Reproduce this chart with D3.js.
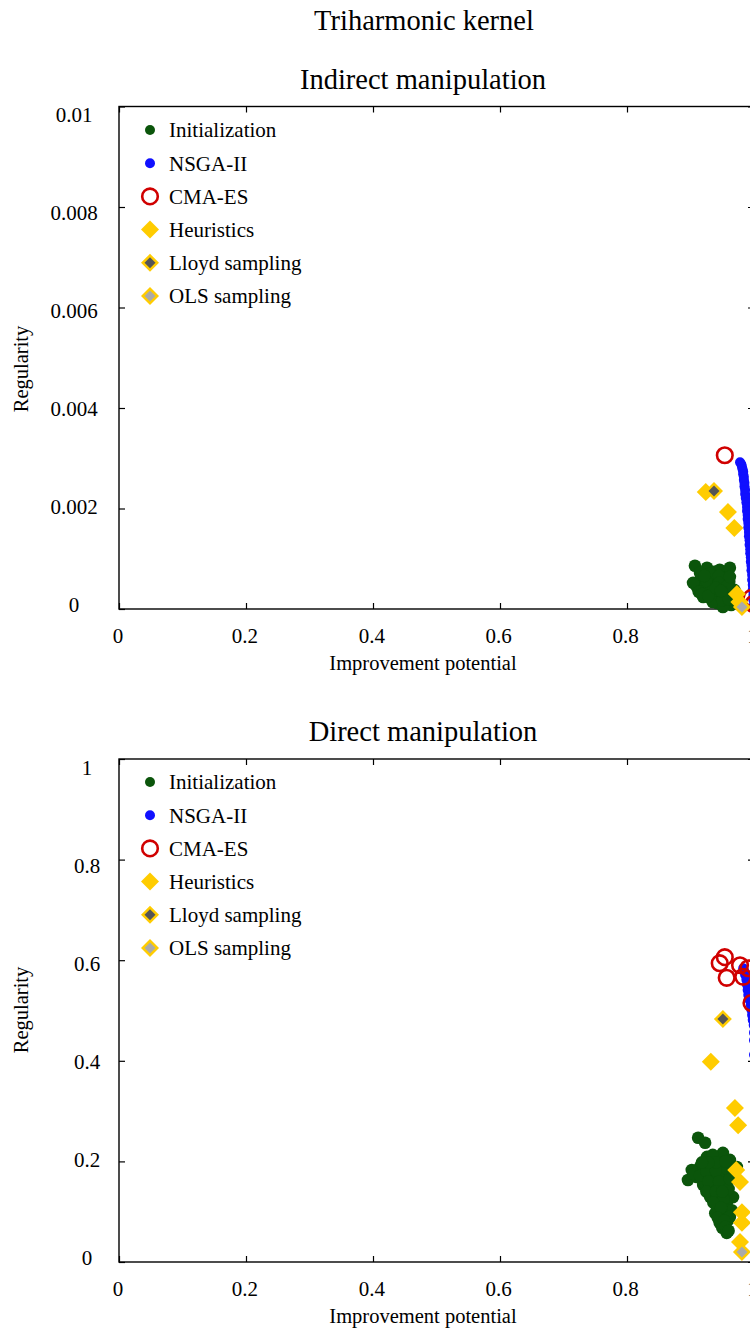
<!DOCTYPE html>
<html><head><meta charset="utf-8">
<script src="https://cdn.jsdelivr.net/npm/d3@7"></script>
<style>
body{margin:0;background:#fff;}
svg{display:block;font-family:"Liberation Serif","Times New Roman",serif;}
</style></head>
<body>
<svg id="chart" width="750" height="1331"></svg>
<script>
// ---------- DATA ----------
const xTicks = [0, 0.2, 0.4, 0.6, 0.8, 1];
const xTickLabels = ["0", "0.2", "0.4", "0.6", "0.8", "1"];
const topYTicks = [0, 0.002, 0.004, 0.006, 0.008, 0.01];
const topYTickLabels = ["0", "0.002", "0.004", "0.006", "0.008", "0.01"];
const botYTicks = [0, 0.2, 0.4, 0.6, 0.8, 1];
const botYTickLabels = ["0", "0.2", "0.4", "0.6", "0.8", "1"];
const legendLabels = ["Initialization", "NSGA-II", "CMA-ES", "Heuristics", "Lloyd sampling", "OLS sampling"];

// Indirect manipulation
const indInit = [[0.907,0.00086],[0.926,0.00082],[0.946,0.00078],[0.957,0.00072],[0.934,0.00064],[0.915,0.00058],[0.910,0.00044],[0.920,0.00038],[0.935,0.00038],[0.951,0.00044],[0.961,0.00054],[0.946,0.00024],[0.957,0.00014],[0.964,0.00008],[0.931,0.00022],[0.942,0.00012],[0.920,0.00024],[0.967,0.00024],[0.951,0.00004],[0.924,0.00048],[0.939,0.00052],[0.904,0.00052],[0.913,0.00034],[0.929,0.00034],[0.943,0.00032],[0.956,0.00032],[0.969,0.00038],[0.935,0.00014],[0.973,0.00014],[0.953,0.00062],[0.937,0.00074],[0.962,0.00082],[0.915,0.00072],[0.930,0.00070],[0.945,0.00066],[0.925,0.00056],[0.945,0.00052],[0.958,0.00046],[0.918,0.00030],[0.928,0.00026],[0.950,0.00018],[0.960,0.00020],[0.940,0.00042],[0.962,0.00064],[0.922,0.00066],[0.948,0.00036]];
const indNsga = [[0.978,0.00292],[0.980,0.00288],[0.981,0.00283],[0.982,0.00278],[0.983,0.00273],[0.983,0.00268],[0.984,0.00263],[0.984,0.00257],[0.985,0.00251],[0.985,0.00244],[0.986,0.00237],[0.986,0.00229],[0.987,0.00221],[0.988,0.00212],[0.989,0.00203],[0.989,0.00195],[0.990,0.00187],[0.990,0.00179],[0.991,0.00171],[0.991,0.00162],[0.992,0.00153],[0.992,0.00145],[0.993,0.00137],[0.993,0.00128],[0.994,0.00119],[0.994,0.00111],[0.995,0.00103],[0.995,0.00094],[0.996,0.00086],[0.996,0.00077],[0.997,0.00068],[0.997,0.00058],[0.998,0.00048],[0.998,0.00038],[0.999,0.00028],[0.999,0.00018],[1.000,0.00008]];
const indCma = [[0.954,0.00306],[0.996,0.00022],[0.999,0.00010]];
const indHeur = [[0.924,0.00233],[0.959,0.00193],[0.969,0.00161],[0.973,0.00030],[0.977,0.00014]];
const indLloyd = [[0.937,0.00235]];
const indOls = [[0.981,0.00004]];

// Direct manipulation
const dirInit = [[0.912,0.247],[0.923,0.237],[0.951,0.217],[0.926,0.209],[0.935,0.213],[0.962,0.203],[0.915,0.189],[0.931,0.189],[0.946,0.197],[0.967,0.183],[0.896,0.163],[0.910,0.169],[0.920,0.177],[0.935,0.169],[0.951,0.173],[0.970,0.167],[0.920,0.153],[0.935,0.149],[0.954,0.153],[0.967,0.129],[0.931,0.129],[0.946,0.133],[0.942,0.109],[0.957,0.117],[0.939,0.097],[0.954,0.097],[0.965,0.103],[0.946,0.078],[0.959,0.083],[0.950,0.068],[0.957,0.058],[0.973,0.189],[0.902,0.183],[0.905,0.175],[0.915,0.172],[0.925,0.180],[0.940,0.182],[0.958,0.185],[0.928,0.160],[0.945,0.160],[0.960,0.145],[0.925,0.140],[0.940,0.140],[0.952,0.125],[0.936,0.118],[0.948,0.108],[0.962,0.090],[0.943,0.088],[0.953,0.082],[0.955,0.070],[0.960,0.062],[0.940,0.198],[0.955,0.200],[0.928,0.198],[0.918,0.198],[0.962,0.165],[0.950,0.140]];
const dirNsga = [[0.983,0.584],[0.985,0.577],[0.986,0.571],[0.988,0.561],[0.989,0.551],[0.990,0.541],[0.991,0.531],[0.993,0.521],[0.995,0.511],[0.996,0.501],[0.997,0.491],[0.998,0.481],[0.9995,0.471],[1.000,0.456],[1.000,0.441],[1.000,0.412]];
const dirCma = [[0.946,0.594],[0.954,0.606],[0.957,0.565],[0.978,0.590],[0.983,0.567],[0.991,0.584],[0.996,0.515]];
const dirHeur = [[0.932,0.398],[0.970,0.306],[0.975,0.272],[0.972,0.183],[0.978,0.159],[0.981,0.099],[0.981,0.078],[0.978,0.040]];
const dirLloyd = [[0.951,0.483]];
const dirOls = [[0.981,0.020]];

// ---------- STYLE ----------
const C = {green:"#0b550b", blue:"#1010ff", red:"#d00000", yellow:"#ffcc00", dark:"#555555", light:"#aaaaaa"};
const svg = d3.select("#chart");

svg.append("text").attr("x",424).attr("y",30).attr("text-anchor","middle")
  .attr("font-size",28.5).text("Triharmonic kernel");

function diamond(sel, cx, cy, h, fill){
  sel.append("path")
    .attr("d", `M${cx},${cy-h}L${cx+h},${cy}L${cx},${cy+h}L${cx-h},${cy}Z`)
    .attr("fill", fill);
}

function drawMarkers(g, kind, px, py){
  if(kind==="init"){
    g.append("circle").attr("cx",px).attr("cy",py).attr("r",6.3).attr("fill",C.green);
  } else if(kind==="nsga"){
    g.append("circle").attr("cx",px).attr("cy",py).attr("r",5).attr("fill",C.blue);
  } else if(kind==="cma"){
    g.append("circle").attr("cx",px).attr("cy",py).attr("r",7.8).attr("fill","none").attr("stroke",C.red).attr("stroke-width",2.6);
  } else if(kind==="heur"){
    diamond(g, px, py, 9, C.yellow);
  } else if(kind==="lloyd"){
    diamond(g, px, py, 9, C.yellow); diamond(g, px, py, 5.5, C.dark);
  } else if(kind==="ols"){
    diamond(g, px, py, 9, C.yellow); diamond(g, px, py, 5.5, C.light);
  }
}

function panel(o){
  const x = d3.scaleLinear().domain([0,1]).range([119,754]);
  const y = d3.scaleLinear().domain([0,o.yMax]).range([o.bottom,o.top]);
  const xLab = d3.scaleLinear().domain([0,1]).range([118,752.5]);
  const yLab = d3.scaleLinear().domain([0,o.yMax]).range(o.labRange);
  const g = svg.append("g");

  g.append("text").attr("x",423).attr("y",o.titleY).attr("text-anchor","middle")
    .attr("font-size",28.5).text(o.title);

  g.append("rect").attr("x",119).attr("y",o.top).attr("width",635).attr("height",o.bottom-o.top)
    .attr("fill","none").attr("stroke","#000").attr("stroke-width",1.4);

  const tickStyle = s => { s.select(".domain").remove(); s.selectAll("line").attr("stroke","#000").attr("stroke-width",1.2); s.selectAll("text").remove(); };
  g.append("g").attr("transform",`translate(0,${o.bottom})`).call(d3.axisBottom(x).tickValues(xTicks).tickSize(-6)).call(tickStyle);
  g.append("g").attr("transform",`translate(0,${o.top})`).call(d3.axisTop(x).tickValues(xTicks).tickSize(-6)).call(tickStyle);
  g.append("g").attr("transform",`translate(119,0)`).call(d3.axisLeft(y).tickValues(o.yTicks).tickSize(-6)).call(tickStyle);
  g.append("g").attr("transform",`translate(754,0)`).call(d3.axisRight(y).tickValues(o.yTicks).tickSize(-6)).call(tickStyle);

  g.selectAll(".xl").data(xTicks).enter().append("text")
    .attr("x",d=>xLab(d)).attr("y",o.bottom+34).attr("text-anchor","middle").attr("font-size",21)
    .text((d,i)=>xTickLabels[i]);
  g.selectAll(".yl").data(o.yTicks).enter().append("text")
    .attr("x",o.labX).attr("y",d=>yLab(d)).attr("dy","0.35em").attr("text-anchor","middle").attr("font-size",21)
    .text((d,i)=>o.yTickLabels[i]);

  g.append("text").attr("x",423).attr("y",o.bottom+61).attr("text-anchor","middle").attr("font-size",20.5).text("Improvement potential");
  g.append("text").attr("transform",`translate(28,${o.regY}) rotate(-90)`).attr("text-anchor","middle").attr("font-size",20.5).text("Regularity");

  const pts = g.append("g");
  const series = [["init",o.init],["nsga",o.nsga],["cma",o.cma],["heur",o.heur],["lloyd",o.lloyd],["ols",o.ols]];
  series.forEach(([k,arr]) => arr.forEach(d => drawMarkers(pts, k, x(d[0]), y(d[1]))));

  const kinds = ["init","nsga","cma","heur","lloyd","ols"];
  const lg = g.append("g");
  kinds.forEach((k,i) => {
    const cy = o.legY + i*33.2;
    if(k==="init"){ lg.append("circle").attr("cx",150).attr("cy",cy).attr("r",5).attr("fill",C.green); }
    else if(k==="nsga"){ lg.append("circle").attr("cx",150).attr("cy",cy).attr("r",5).attr("fill",C.blue); }
    else drawMarkers(lg, k, 150, cy);
    lg.append("text").attr("x",169).attr("y",cy).attr("dy","0.35em").attr("font-size",21).text(legendLabels[i]);
  });
}

panel({title:"Indirect manipulation", titleY:89, top:106.5, bottom:609, yMax:0.01,
  yTicks:topYTicks, yTickLabels:topYTickLabels, labRange:[605,115], labX:74, regY:369, legY:130,
  init:indInit, nsga:indNsga, cma:indCma, heur:indHeur, lloyd:indLloyd, ols:indOls});
panel({title:"Direct manipulation", titleY:741, top:759, bottom:1262, yMax:1,
  yTicks:botYTicks, yTickLabels:botYTickLabels, labRange:[1258,768], labX:87, regY:1010, legY:782,
  init:dirInit, nsga:dirNsga, cma:dirCma, heur:dirHeur, lloyd:dirLloyd, ols:dirOls});
</script>
</body></html>
